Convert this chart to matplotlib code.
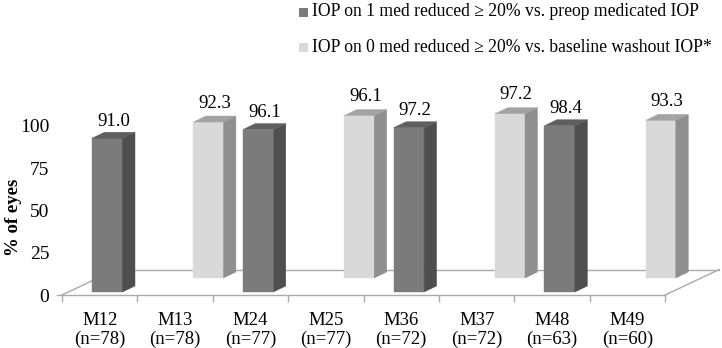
import matplotlib
matplotlib.use("Agg")
import matplotlib.pyplot as plt
from matplotlib.patches import Polygon, Rectangle

# ---- data ----
categories = ["M12\n(n=78)", "M13\n(n=78)", "M24\n(n=77)", "M25\n(n=77)",
              "M36\n(n=72)", "M37\n(n=72)", "M48\n(n=63)", "M49\n(n=60)"]
series_names = ["IOP on 1 med reduced \u2265 20% vs. preop medicated IOP",
                "IOP on 0 med reduced \u2265 20% vs. baseline washout IOP*"]
# None = no bar in that category
series1 = [91.0, None, 96.1, None, 97.2, None, 98.4, None]
series2 = [None, 92.3, None, 96.1, None, 97.2, None, 93.3]
yticks = [0, 25, 50, 75, 100]
ylabel = "% of eyes"

# ---- style ----
plt.rcParams['font.family'] = ['Liberation Serif', 'DejaVu Serif']
FS = 13.5
W, H = 722, 348
fig = plt.figure(figsize=(W / 100, H / 100), dpi=100)

# axes: x 0..8 over px 62..665, y 0 at px 295, 1.69 px per unit
px_x = 75.4
px_y = 1.69
left_px, right_px = 62, 62 + 8 * px_x
bot_px, top_px = 295, 60
ax = fig.add_axes([left_px / W, (H - bot_px) / H, (right_px - left_px) / W,
                   (bot_px - top_px) / H])
ax.set_xlim(0, 8)
ax.set_ylim(0, (bot_px - top_px) / px_y)
for s in ax.spines.values():
    s.set_visible(False)
ax.patch.set_visible(False)

# floor geometry (data units)
fdx = 54 / px_x
fdy = 25.5 / px_y
line_c = "#aaaaaa"
lw = 1.0
n = len(categories)
ax.plot([-5 / px_x, n], [0, 0], color=line_c, lw=lw, clip_on=False, zorder=1)
ax.plot([0, fdx], [0, fdy], color=line_c, lw=lw, clip_on=False, zorder=1)
ax.plot([n, n + fdx], [0, fdy], color=line_c, lw=lw, clip_on=False, zorder=1)
ax.plot([fdx, n + fdx], [fdy, fdy], color=line_c, lw=lw, clip_on=False, zorder=1)

# bars
bdx = 12.5 / px_x
bdy = 6 / px_y
rows = [
    # (values, face x offset, width, base y, front, side, top, zorder, label offset px)
    (series2, 56 / px_x, 30 / px_x, 17 / px_y, "#d9d9d9", "#8f8f8f", "#a3a3a3", 3, 13),
    (series1, 30 / px_x, 30.5 / px_x, 3 / px_y, "#7b7b7b", "#4f4f4f", "#5f5f5f", 5, 11),
]
for vals, xo, bw, base, cf, cs, ct, z, loff in rows:
    for i, v in enumerate(vals):
        if v is None:
            continue
        x0 = i + xo
        x1 = x0 + bw
        y0 = base
        y1 = base + v
        ax.add_patch(Polygon([(x0, y0), (x1, y0), (x1, y1), (x0, y1)], closed=True,
                             facecolor=cf, edgecolor=cf, lw=0.3, zorder=z, clip_on=False))
        ax.add_patch(Polygon([(x1, y0), (x1 + bdx, y0 + bdy), (x1 + bdx, y1 + bdy), (x1, y1)],
                             closed=True, facecolor=cs, edgecolor=cs, lw=0.3, zorder=z,
                             clip_on=False))
        ax.add_patch(Polygon([(x0, y1), (x1, y1), (x1 + bdx, y1 + bdy), (x0 + bdx, y1 + bdy)],
                             closed=True, facecolor=ct, edgecolor=ct, lw=0.3, zorder=z,
                             clip_on=False))
        ax.annotate(f"{v:.1f}", xy=((x0 + x1) / 2 + bdx / 2, y1 + bdy),
                    xytext=(0, loff * 0.72), textcoords="offset points",
                    ha="center", va="center", fontsize=FS, color="#000000",
                    zorder=z + 1, annotation_clip=False)

# ticks
ax.set_yticks(yticks)
ax.set_yticklabels([str(t) for t in yticks], fontsize=FS + 0.5)
ax.tick_params(axis="y", length=0, pad=9)
ax.set_xticks(range(n + 1))
ax.set_xticklabels([""] * (n + 1))
ax.set_xticks([i + 0.5 for i in range(n)], minor=True)
ax.set_xticklabels(categories, minor=True, fontsize=FS, linespacing=1.12)
ax.tick_params(axis="x", which="major", length=5, color=line_c, width=1)
ax.tick_params(axis="x", which="minor", length=0, pad=12)

fig.text(14 / W, 1 - 217 / H, ylabel, rotation=90, ha="center", va="center",
         fontsize=FS, fontweight="bold")

# legend
leg_cols = ["#7b7b7b", "#d9d9d9"]
leg_y = [12, 47]
for name, c, yy in zip(series_names, leg_cols, leg_y):
    fig.patches.append(Rectangle((299 / W, 1 - (yy + 4.5) / H), 9 / W, 9 / H,
                                 transform=fig.transFigure, facecolor=c,
                                 edgecolor="none", figure=fig))
    fig.text(312 / W, 1 - yy / H, name, ha="left", va="center", fontsize=12.7)

fig.savefig("out.png", dpi=100)
